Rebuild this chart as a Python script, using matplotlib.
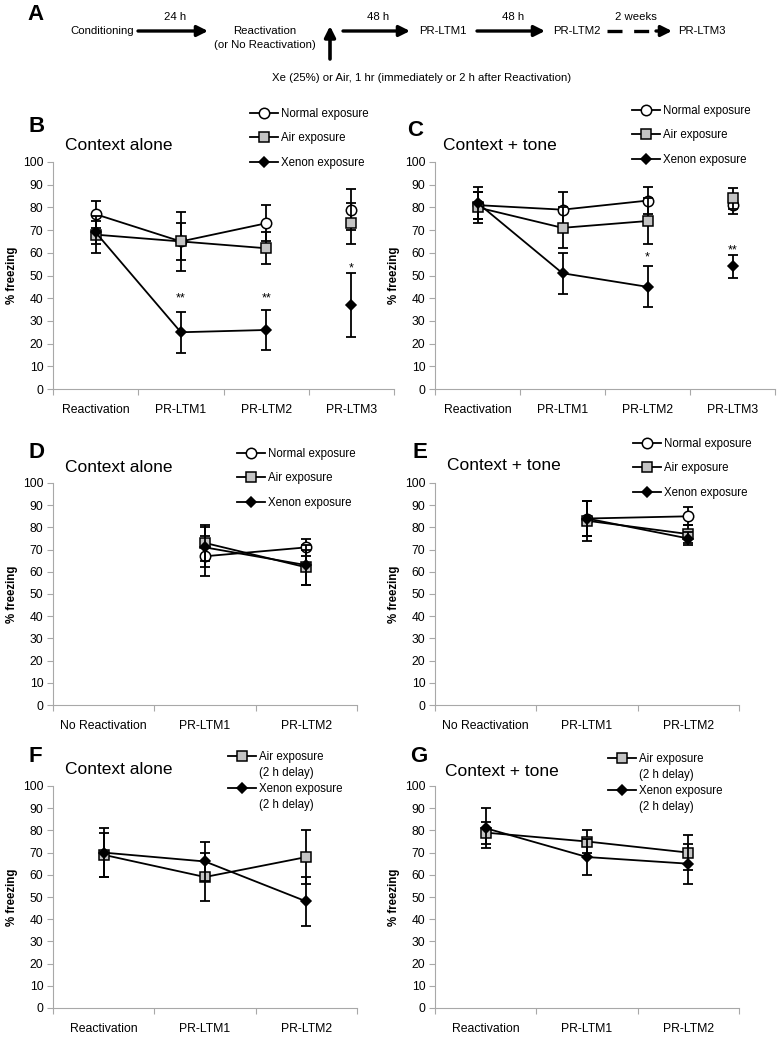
import numpy as np
import matplotlib
matplotlib.use('Agg')
import matplotlib.pyplot as plt
from matplotlib.lines import Line2D
from matplotlib.patches import FancyArrowPatch

plt.rcParams['font.family'] = ['Liberation Sans', 'DejaVu Sans']

W, H = 780, 1037
nan = np.nan

# ---- data ----
cats_react = ['Reactivation', 'PR-LTM1', 'PR-LTM2', 'PR-LTM3']
cats_noreact = ['No Reactivation', 'PR-LTM1', 'PR-LTM2']
cats_delay = ['Reactivation', 'PR-LTM1', 'PR-LTM2']

# B: context alone
b_normal = [77, 65, 73, 79]
b_normal_err = [6, 8, 8, 9]
b_air = [68, 65, 62, 73]
b_air_err = [8, 13, 7, 9]
b_xenon = [69, 25, 26, 37]
b_xenon_err = [5, 9, 9, 14]
b_stars = [(1, 40, '**'), (2, 40, '**'), (3, 53, '*')]

# C: context + tone
c_normal = [81, 79, 83, 81]
c_normal_err = [6, 8, 6, 4]
c_air = [80, 71, 74, 84]
c_air_err = [7, 9, 10, 4.5]
c_xenon = [82, 51, 45, 54]
c_xenon_err = [7, 9, 9, 5]
c_stars = [(2, 58, '*'), (3, 61, '**')]

# D: context alone, no reactivation
d_normal = [nan, 67, 71]
d_normal_err = [nan, 9, 4]
d_air = [nan, 73, 62]
d_air_err = [nan, 8, 8]
d_xenon = [nan, 71, 63]
d_xenon_err = [nan, 9, 9]

# E: context + tone, no reactivation
e_normal = [nan, 84, 85]
e_normal_err = [nan, 8, 4]
e_air = [nan, 83, 77]
e_air_err = [nan, 9, 4]
e_xenon = [nan, 84, 75]
e_xenon_err = [nan, 8, 3]

# F: context alone, 2 h delay
f_air = [69, 59, 68]
f_air_err = [10, 11, 12]
f_xenon = [70, 66, 48]
f_xenon_err = [11, 9, 11]

# G: context + tone, 2 h delay
g_air = [79, 75, 70]
g_air_err = [5, 5, 8]
g_xenon = [81, 68, 65]
g_xenon_err = [9, 8, 9]

# timeline of panel A
timeline_steps = ['Conditioning', 'Reactivation', 'PR-LTM1', 'PR-LTM2', 'PR-LTM3']
timeline_gaps = ['24 h', '48 h', '48 h', '2 weeks']

MARKERS = {
    'normal': dict(marker='o', mfc='white', ms=7.5),
    'air': dict(marker='s', mfc='#c4c4c4', ms=7),
    'xenon': dict(marker='D', mfc='black', ms=5.5),
}
GRAY = '#a8a8a8'

fig = plt.figure(figsize=(W / 100, H / 100), dpi=100)


def px(x, y):
    return x / W, 1 - y / H


def panel(box, cats, series, joined, letter, letter_xy, title, title_xy, leg, stars=()):
    x0, y0, x1, y1 = box
    ax = fig.add_axes([x0 / W, 1 - y1 / H, (x1 - x0) / W, (y1 - y0) / H])
    x = np.arange(len(cats))
    handles, labels = [], []
    for z, (kind, label, vals, errs) in enumerate(series):
        st = MARKERS[kind]
        vals = np.asarray(vals, float)
        errs = np.asarray(errs, float)
        ax.errorbar(x, vals, yerr=errs, fmt='none', ecolor='black', elinewidth=1.3,
                    capsize=3.5, capthick=1.3, zorder=2 + 3 * z)
        ax.plot(x[:joined], vals[:joined], color='black', lw=1.3, zorder=3 + 3 * z)
        ax.plot(x, vals, ls='none', mec='black', mew=1.1, zorder=4 + 3 * z, **st)
        parts = label.split('\n')
        handles.append(Line2D([], [], color='black', lw=1.3, mec='black', mew=1.1, **st))
        labels.append(parts[0])
        for extra in parts[1:]:
            handles.append(Line2D([], [], color='none'))
            labels.append(extra)
    for xi, yv, s in stars:
        ax.text(xi, yv, s, ha='center', va='center', fontsize=9)

    n = len(cats)
    ax.set_xlim(-0.5, n - 0.5)
    ax.set_ylim(0, 100)
    ax.set_yticks(range(0, 101, 10))
    ax.set_xticks(np.arange(n + 1) - 0.5)
    ax.set_xticklabels([''] * (n + 1))
    ax.set_xticks(x, minor=True)
    ax.set_xticklabels(cats, minor=True)
    ax.tick_params(axis='x', which='minor', length=0, pad=11, labelsize=8.8)
    ax.tick_params(axis='x', which='major', length=4, color=GRAY)
    ax.tick_params(axis='y', length=4, color=GRAY, labelsize=8.7, pad=3)
    for s in ['top', 'right']:
        ax.spines[s].set_visible(False)
    for s in ['left', 'bottom']:
        ax.spines[s].set_color(GRAY)

    lx, ly, lsp = leg
    ax.legend(handles, labels, loc='upper left', bbox_to_anchor=px(lx, ly),
              bbox_transform=fig.transFigure, frameon=False, fontsize=8.3,
              handlelength=2.4, handletextpad=0.25, labelspacing=lsp,
              borderpad=0, borderaxespad=0, numpoints=1)

    fig.text(*px(x0 - 41, (y0 + y1) / 2), '% freezing', rotation=90, ha='center',
             va='center', fontsize=8.3, fontweight='bold')
    fig.text(*px(*letter_xy), letter, ha='left', va='center', fontsize=16, fontweight='bold')
    fig.text(*px(*title_xy), title, ha='left', va='center', fontsize=12.5)
    return ax


three = [('normal', 'Normal exposure'), ('air', 'Air exposure'), ('xenon', 'Xenon exposure')]

panel((53, 162, 394, 389), cats_react,
      [(k, l, v, e) for (k, l), v, e in zip(three, [b_normal, b_air, b_xenon],
                                           [b_normal_err, b_air_err, b_xenon_err])],
      3, 'B', (29, 127), 'Context alone', (65, 146), (250, 108, 1.08), b_stars)

panel((435, 162, 775, 389), cats_react,
      [(k, l, v, e) for (k, l), v, e in zip(three, [c_normal, c_air, c_xenon],
                                           [c_normal_err, c_air_err, c_xenon_err])],
      3, 'C', (407, 130), 'Context + tone', (443, 146), (632, 105, 1.08), c_stars)

panel((53, 483, 357, 705), cats_noreact,
      [(k, l, v, e) for (k, l), v, e in zip(three, [d_normal, d_air, d_xenon],
                                           [d_normal_err, d_air_err, d_xenon_err])],
      3, 'D', (29, 453), 'Context alone', (65, 468), (237, 448, 1.08))

panel((435, 483, 739, 705), cats_noreact,
      [(k, l, v, e) for (k, l), v, e in zip(three, [e_normal, e_air, e_xenon],
                                           [e_normal_err, e_air_err, e_xenon_err])],
      3, 'E', (412, 452), 'Context + tone', (447, 466), (633, 438, 1.08))

panel((53, 786, 357, 1008), cats_delay,
      [('air', 'Air exposure\n(2 h delay)', f_air, f_air_err),
       ('xenon', 'Xenon exposure\n(2 h delay)', f_xenon, f_xenon_err)],
      3, 'F', (29, 756), 'Context alone', (65, 770), (228, 751, 0.35))

panel((435, 786, 739, 1008), cats_delay,
      [('air', 'Air exposure\n(2 h delay)', g_air, g_air_err),
       ('xenon', 'Xenon exposure\n(2 h delay)', g_xenon, g_xenon_err)],
      3, 'G', (410, 757), 'Context + tone', (445, 771), (608, 753, 0.35))

# ---- panel A: timeline ----
fig.text(*px(27, 15), 'A', ha='left', va='center', fontsize=16, fontweight='bold')
step_x = [102, 265, 443, 577, 702]
for xc, s in zip(step_x, timeline_steps):
    fig.text(*px(xc, 31), s, ha='center', va='center', fontsize=8.2)
fig.text(*px(265, 45), '(or No Reactivation)', ha='center', va='center', fontsize=8.2)

arrow_spans = [(138, 208), (343, 410), (477, 545)]
for (xa, xb), s in zip(arrow_spans, timeline_gaps[:3]):
    fig.patches.append(FancyArrowPatch(px(xa, 31), px(xb, 31), transform=fig.transFigure,
                                       arrowstyle='-|>', mutation_scale=16, lw=2.4,
                                       color='black', shrinkA=0, shrinkB=0))
    fig.text(*px((xa + xb) / 2 + 2, 17), s, ha='center', va='center', fontsize=8.2)
# dashed two-week gap
fig.add_artist(Line2D([px(607, 0)[0], px(660, 0)[0]], [px(0, 31)[1]] * 2,
                      transform=fig.transFigure, color='black', lw=2.4, ls=(0, (4.5, 3.5))))
fig.patches.append(FancyArrowPatch(px(656, 31), px(672, 31), transform=fig.transFigure,
                                   arrowstyle='-|>', mutation_scale=16, lw=2.4,
                                   color='black', shrinkA=0, shrinkB=0))
fig.text(*px(636, 17), timeline_gaps[3], ha='center', va='center', fontsize=8.2)
# exposure arrow
fig.patches.append(FancyArrowPatch(px(330, 59), px(330, 26), transform=fig.transFigure,
                                   arrowstyle='-|>', mutation_scale=16, lw=2.6,
                                   color='black', shrinkA=0, shrinkB=0))
fig.text(*px(422, 78), 'Xe (25%) or Air, 1 hr (immediately or 2 h after Reactivation)',
         ha='center', va='center', fontsize=8.2)

fig.savefig('out.png', dpi=100)
